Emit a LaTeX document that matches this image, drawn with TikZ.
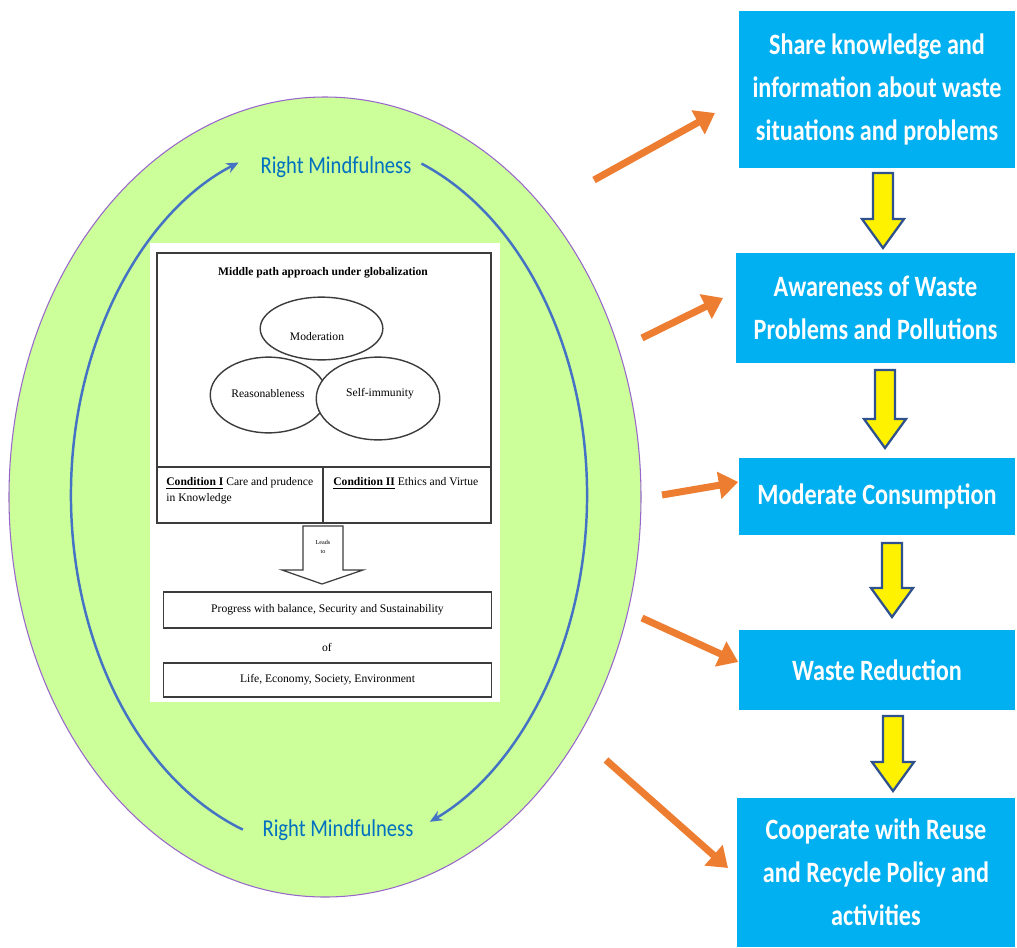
\documentclass[tikz,border=0pt]{standalone}
\usepackage{fontspec}
\setmainfont{Liberation Serif}
\newfontfamily\calfont[FakeStretch=0.85]{Carlito}
\newfontfamily\boxfont[FakeStretch=0.82]{Carlito}
\usetikzlibrary{arrows.meta,shapes.geometric}
\definecolor{boxblue}{RGB}{0,176,240}
\definecolor{mindblue}{RGB}{0,112,192}
\definecolor{loopblue}{RGB}{68,114,196}
\definecolor{arroworange}{RGB}{237,125,49}
\definecolor{eggreen}{RGB}{204,255,153}
\definecolor{eggpurple}{RGB}{153,102,204}
\definecolor{arrowedge}{RGB}{47,82,143}
\definecolor{framegray}{RGB}{60,60,60}
\tikzset{
  bluebox/.style={
    rectangle,
    fill=boxblue,
    inner sep=0pt,
    align=center,
    text=white,
    font=\boxfont\bfseries\fontsize{16.8}{24.4}\selectfont
  },
  mind-label/.style={text=mindblue, inner sep=0pt, font=\calfont\fontsize{13.8}{16}\selectfont},
  mind-loop/.style={loopblue, line width=1.4pt, -{Stealth[length=7pt,width=6pt]}},
  push/.style={arroworange, line width=4pt, -{Triangle[length=11pt,width=15pt]}},
  yarrow/.style={fill=yellow, draw=arrowedge, line width=1.3pt, line join=miter},
  pic-text/.style={inner sep=0pt, text=black, font=\fontsize{6.6}{9}\selectfont},
  pic-frame/.style={draw=framegray, line width=0.8pt},
  venn/.style={ellipse, pic-frame, fill=white, inner sep=0pt},
  pic-box/.style={rectangle, pic-frame, fill=white, inner sep=0pt, pic-text}
}
% block arrow pointing down: x, top, tip
\newcommand{\yellowdown}[3]{
  \draw[yarrow] ({#1-10},#2) -- ({#1+10},#2) -- ({#1+10},{#3-29}) -- ({#1+21},{#3-29})
    -- (#1,#3) -- ({#1-21},{#3-29}) -- ({#1-10},{#3-29}) -- cycle;
}
\begin{document}
\begin{tikzpicture}[x=0.02cm, y=-0.02cm]
  \useasboundingbox (0,0) rectangle (1017,947);
  % Outer egg
  \draw[eggpurple, line width=0.6pt, fill=eggreen] (325,497) ellipse [x radius=316, y radius=400];
  % Right mindfulness loop
  \node[mind-label] (rmt) at (336,167) {Right Mindfulness};
  \node[mind-label] (rmb) at (338,830) {Right Mindfulness};
  \draw[mind-loop] (329,495) ++(109.5:258 and 355) arc[start angle=109.5, end angle=249.5, x radius=258, y radius=355];
  \draw[mind-loop] (329,495) ++(-69:258 and 355) arc[start angle=-69, end angle=67, x radius=258, y radius=355];
  % Middle path figure
  \fill[white] (150,243) rectangle (500,702);
  \draw[pic-frame] (157,253) rectangle (491,523);
  \draw[pic-frame] (157,467) -- (491,467);
  \draw[pic-frame] (323,467) -- (323,523);
  \node[pic-text, font=\bfseries\fontsize{6.6}{9}\selectfont] (title) at (323,273) {Middle path approach under globalization};
  \node[venn, minimum width=69.8pt, minimum height=35.7pt] (moder) at (321.5,328.5) {};
  \node[venn, minimum width=66.3pt, minimum height=43.1pt] (reason) at (268.5,395) {};
  \node[venn, minimum width=70.3pt, minimum height=47.1pt] (immun) at (378,398.5) {};
  \node[pic-text] at (317,337) {Moderation};
  \node[pic-text] at (268,394) {Reasonableness};
  \node[pic-text] at (380,394) {Self-immunity};
  \node[pic-text, anchor=north west, align=left] (cond1) at (166,477)
    {\underline{\textbf{Condition I}} Care and prudence\\in Knowledge};
  \node[pic-text, anchor=north west, align=left] (cond2) at (333,477)
    {\underline{\textbf{Condition II}} Ethics and Virtue};
  \draw[framegray, line width=0.7pt, fill=white] (303,526) -- (343,526) -- (343,570) -- (363,570)
    -- (322,584) -- (282,570) -- (303,570) -- cycle;
  \node[pic-text, align=center, font=\fontsize{3.5}{5}\selectfont] (leads) at (323,547) {Leads\\to};
  \node[pic-box, minimum width=186.5pt, minimum height=20.4pt] (progress) at (327.5,610)
    {Progress with balance, Security and Sustainability};
  \node[pic-text] (of) at (327,647) {of};
  \node[pic-box, minimum width=186.5pt, minimum height=19.3pt] (life) at (327.5,680)
    {Life, Economy, Society, Environment};
  % Steps on the right
  \node[bluebox, minimum width=157.6pt, minimum height=89pt] (share) at (877,89.5)
    {Share knowledge and\\information about waste\\situations and problems};
  \node[bluebox, minimum width=159.3pt, minimum height=62.4pt] (aware) at (875.5,308)
    {Awareness of Waste\\Problems and Pollutions};
  \node[bluebox, minimum width=157.6pt, minimum height=43.7pt] (consume) at (877,496.5)
    {Moderate Consumption};
  \node[bluebox, minimum width=157.6pt, minimum height=45.4pt] (reduce) at (877,670)
    {Waste Reduction};
  \node[bluebox, minimum width=158.7pt, minimum height=84.5pt] (recycle) at (876,872.5)
    {Cooperate with Reuse\\and Recycle Policy and\\activities};
  \yellowdown{883}{173}{248}
  \yellowdown{885}{370}{448}
  \yellowdown{892}{543}{617}
  \yellowdown{893}{716}{791}
  % Orange arrows
  \coordinate (o1) at (594,180);
  \coordinate (o2) at (642,338);
  \coordinate (o3) at (662,495);
  \coordinate (o4) at (642,618);
  \coordinate (o5) at (606,760);
  \coordinate (t1) at (715,113);
  \coordinate (t2) at (723,298);
  \coordinate (t5) at (728,868);
  \draw[push] (o1) -- (t1);
  \draw[push] (o2) -- (t2);
  \draw[push] (o3) -- (consume.west |- 0,482);
  \draw[push] (o4) -- (reduce.west |- 0,662);
  \draw[push] (o5) -- (t5);
\end{tikzpicture}
\end{document}
